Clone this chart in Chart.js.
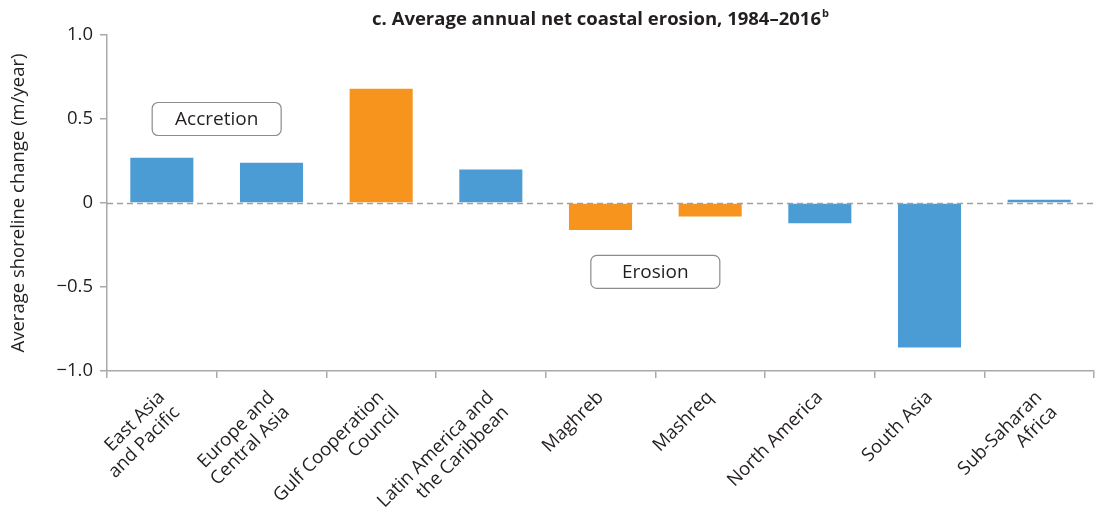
<!DOCTYPE html>
<html>
<head>
<meta charset="utf-8">
<script src="https://cdn.jsdelivr.net/npm/chart.js@4.4.1/dist/chart.umd.min.js"></script>
<style>
  html, body { margin: 0; padding: 0; background: #fff; }
  #wrap { width: 1099px; height: 510px; position: relative; }
</style>
</head>
<body>
<div id="wrap"><canvas id="chart"></canvas></div>
<script>
// ── Data ────────────────────────────────────────────────────────────────────
const regions = [
  ['East Asia', 'and Pacific'],
  ['Europe and', 'Central Asia'],
  ['Gulf Cooperation', 'Council'],
  ['Latin America and', 'the Caribbean'],
  'Maghreb',
  'Mashreq',
  'North America',
  'South Asia',
  ['Sub-Saharan', 'Africa'],
];
const shorelineChange = [0.27, 0.24, 0.68, 0.20, -0.16, -0.08, -0.12, -0.86, 0.02];
// MENA sub-regions are drawn in orange
const isMena = [false, false, true, false, true, true, false, false, false];
const yTickValues = [-1, -0.5, 0, 0.5, 1];

const titleText = 'c. Average annual net coastal erosion, 1984–2016';
const titleNote = 'b';
const yAxisTitle = 'Average shoreline change (m/year)';

// Callout boxes, placed in data units (category index, m/year)
const callouts = [
  { text: 'Accretion', x: 0.5, y: 0.5 },
  { text: 'Erosion', x: 4.5, y: -0.41 },
];

// ── Style ───────────────────────────────────────────────────────────────────
const FONT = '"Open Sans", "Noto Sans", sans-serif';
const TEXT = '#231f20';
const AXIS = '#a7a9ac';
const BLUE = '#4b9cd5';
const ORANGE = '#f7941d';

function formatTick(v) {
  if (v === 0) return '0';
  const s = Math.abs(v).toFixed(1);
  return v < 0 ? '\u2212' + s : s;
}

// Title centred over the plot area, with a small superscript note marker.
const titlePlugin = {
  id: 'plotTitle',
  afterDraw(chart) {
    const { ctx, chartArea } = chart;
    const cx = (chartArea.left + chartArea.right) / 2;
    ctx.save();
    ctx.font = `bold 18.5px ${FONT}`;
    const w = ctx.measureText(titleText).width;
    ctx.font = `bold 11px ${FONT}`;
    const wn = ctx.measureText(titleNote).width;
    const x0 = cx - (w + wn + 1) / 2;
    ctx.fillStyle = TEXT;
    ctx.textBaseline = 'alphabetic';
    ctx.textAlign = 'left';
    ctx.font = `bold 18.5px ${FONT}`;
    ctx.fillText(titleText, x0, 25);
    ctx.font = `bold 11px ${FONT}`;
    ctx.fillText(titleNote, x0 + w + 1, 17);
    ctx.restore();
  },
};

// Dashed zero line, drawn over the bars like in the print version.
const zeroLinePlugin = {
  id: 'zeroLine',
  afterDatasetsDraw(chart) {
    const { ctx, chartArea, scales } = chart;
    const y = Math.round(scales.y.getPixelForValue(0)) + 0.5;
    ctx.save();
    ctx.strokeStyle = '#a0a0a0';
    ctx.lineWidth = 1.3;
    ctx.setLineDash([6, 4]);
    ctx.beginPath();
    ctx.moveTo(chartArea.left, y);
    ctx.lineTo(chartArea.right, y);
    ctx.stroke();
    ctx.restore();
  },
};

const calloutPlugin = {
  id: 'callouts',
  afterDraw(chart) {
    const { ctx, scales } = chart;
    ctx.save();
    callouts.forEach((c) => {
      const cx = scales.x.getPixelForValue(c.x);
      const cy = scales.y.getPixelForValue(c.y);
      const w = 129, h = 33;
      ctx.beginPath();
      ctx.roundRect(cx - w / 2, cy - h / 2, w, h, 6);
      ctx.fillStyle = '#fff';
      ctx.fill();
      ctx.strokeStyle = '#8c8c8c';
      ctx.lineWidth = 1.2;
      ctx.stroke();
      ctx.fillStyle = TEXT;
      ctx.font = `19px ${FONT}`;
      ctx.textAlign = 'center';
      ctx.textBaseline = 'middle';
      ctx.fillText(c.text, cx, cy + 1);
    });
    ctx.restore();
  },
};

new Chart(document.getElementById('chart'), {
  type: 'bar',
  plugins: [titlePlugin, zeroLinePlugin, calloutPlugin],
  data: {
    labels: regions,
    datasets: [{
      data: shorelineChange,
      backgroundColor: isMena.map((m) => (m ? ORANGE : BLUE)),
      borderWidth: 0,
      barPercentage: 0.575,
      categoryPercentage: 1,
    }],
  },
  options: {
    responsive: true,
    maintainAspectRatio: false,
    animation: false,
    devicePixelRatio: 1,
    layout: { padding: { top: 35, right: 5, bottom: 0, left: 0 } },
    plugins: {
      legend: { display: false },
      tooltip: { enabled: false },
      title: { display: false },
    },
    scales: {
      x: {
        grid: {
          offset: true,
          drawOnChartArea: false,
          drawTicks: true,
          tickLength: 7,
          color: AXIS,
          tickColor: AXIS,
          lineWidth: 1.5,
        },
        border: { display: true, color: AXIS, width: 1.5 },
        ticks: {
          color: TEXT,
          font: { family: FONT, size: 18.5, lineHeight: 1.15 },
          maxRotation: 45,
          minRotation: 45,
          autoSkip: false,
          padding: 9,
        },
        afterFit(scale) { scale.height = 139; },
      },
      y: {
        min: -1,
        max: 1,
        afterBuildTicks(scale) {
          scale.ticks = yTickValues.map((v) => ({ value: v }));
        },
        grid: {
          drawOnChartArea: false,
          drawTicks: true,
          tickLength: 7,
          tickColor: AXIS,
          color: AXIS,
          lineWidth: 1.5,
        },
        border: { display: true, color: AXIS, width: 1.5 },
        ticks: {
          color: TEXT,
          font: { family: FONT, size: 18.5 },
          padding: 7,
          callback: (v) => formatTick(v),
        },
        title: {
          display: true,
          text: yAxisTitle,
          color: TEXT,
          font: { family: FONT, size: 18.5 },
          padding: { top: 8, bottom: 0 },
        },
        afterFit(scale) { scale.width = 107; },
      },
    },
  },
});
</script>
</body>
</html>
